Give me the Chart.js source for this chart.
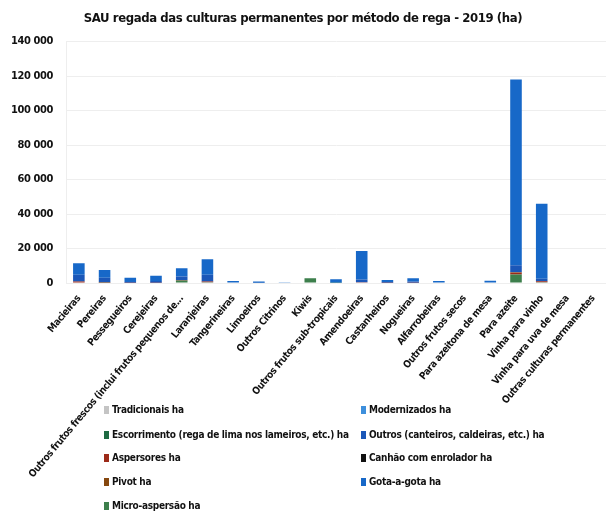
<!DOCTYPE html>
<html>
<head>
<meta charset="utf-8">
<script src="https://cdn.jsdelivr.net/npm/chart.js@4.4.1/dist/chart.umd.min.js"></script>
<style>
  body { margin: 0; background: #fff; }
  #wrap { position: relative; width: 606px; height: 512px; }
  #legend { position: absolute; left: 0; top: 0; width: 606px; height: 512px; pointer-events: none;
    font-family: "Liberation Sans Narrow", "DejaVu Sans Condensed", sans-serif; font-weight: bold;
    font-size: 10px; letter-spacing: -0.3px; color: #111; }
  .item { position: absolute; white-space: nowrap; line-height: 14px; }
  .sw { display: inline-block; width: 5px; height: 8px; margin-right: 3px; vertical-align: -1px; }
</style>
</head>
<body>
<div id="wrap">
  <canvas id="chart" width="606" height="512"></canvas>
  <div id="legend"></div>
</div>
<script>
const categories = [
  "Macieiras", "Pereiras", "Pessegueiros", "Cerejeiras",
  "Outros frutos frescos (inclui frutos pequenos de...", "Laranjeiras", "Tangerineiras",
  "Limoeiros", "Outros Citrinos", "Kiwis", "Outros frutos sub-tropicais", "Amendoeiras",
  "Castanheiros", "Nogueiras", "Alfarrobeiras", "Outros frutos secos", "Para azeitona de mesa",
  "Para azeite", "Vinha para vinho", "Vinha para uva de mesa", "Outras culturas permanentes"
];

// valores estimados a partir da imagem (ha)
const tradicionais  = [0, 0, 0, 0, 0, 0, 0, 0, 0, 0, 0, 0, 0, 0, 0, 300, 0, 0, 0, 0, 0];
const modernizados  = [0, 0, 0, 0, 0, 0, 0, 0, 0, 0, 0, 0, 0, 0, 0, 0, 0, 0, 0, 0, 0];
const escorrimento  = [0, 0, 0, 0, 0, 0, 0, 0, 0, 0, 0, 0, 0, 0, 0, 0, 0, 0, 0, 0, 0];
const outros        = [4000, 2500, 500, 1000, 2000, 4000, 300, 200, 0, 0, 0, 1500, 500, 800, 300, 0, 300, 4000, 1500, 0, 0];
const aspersores    = [500, 300, 100, 100, 200, 300, 0, 0, 0, 0, 0, 200, 100, 100, 0, 0, 0, 1000, 500, 0, 0];
const canhao        = [0, 0, 0, 0, 0, 0, 0, 0, 0, 0, 0, 0, 0, 0, 0, 0, 0, 0, 0, 0, 0];
const pivot         = [0, 0, 0, 0, 0, 0, 0, 0, 0, 0, 0, 0, 0, 0, 0, 0, 0, 300, 0, 0, 0];
const gotaAGota     = [6700, 4600, 2500, 3100, 4800, 9000, 900, 600, 150, 0, 2000, 16600, 1200, 1800, 800, 0, 1000, 107700, 43500, 0, 0];
const microAspersao = [300, 200, 0, 0, 1500, 500, 0, 0, 0, 2700, 200, 300, 0, 0, 0, 0, 0, 5000, 500, 0, 0];

const yTicks = [0, 20000, 40000, 60000, 80000, 100000, 120000, 140000];

const series = {
  trad:  { label: "Tradicionais ha", data: tradicionais, color: "#c4c4c4" },
  mod:   { label: "Modernizados ha", data: modernizados, color: "#3d8fdc" },
  esc:   { label: "Escorrimento (rega de lima nos lameiros, etc.) ha", data: escorrimento, color: "#1e6b42" },
  out:   { label: "Outros (canteiros, caldeiras, etc.) ha", data: outros, color: "#1b57b8" },
  asp:   { label: "Aspersores ha", data: aspersores, color: "#9c2a18" },
  can:   { label: "Canhão com enrolador ha", data: canhao, color: "#111111" },
  piv:   { label: "Pivot ha", data: pivot, color: "#86480f" },
  gota:  { label: "Gota-a-gota ha", data: gotaAGota, color: "#1768c8" },
  micro: { label: "Micro-aspersão ha", data: microAspersao, color: "#3d7f4c" }
};

// ordem de empilhamento (de baixo para cima)
const stackOrder = ["micro", "asp", "piv", "can", "esc", "out", "trad", "mod", "gota"];
// ordem da legenda: coluna esquerda, coluna direita
const legendLeft = ["trad", "esc", "asp", "piv", "micro"];
const legendRight = ["mod", "out", "can", "gota"];

const fmt = (v) => String(v).replace(/\B(?=(\d{3})+(?!\d))/g, " ");
const narrow = "'Liberation Sans Narrow', 'DejaVu Sans Condensed', sans-serif";

// texto mais apertado, como no original
const tightText = {
  id: "tightText",
  beforeDraw: (chart) => { chart.ctx.letterSpacing = "-0.4px"; }
};

const ctx = document.getElementById("chart").getContext("2d");
const chart = new Chart(ctx, {
  type: "bar",
  data: {
    labels: categories,
    datasets: stackOrder.map((k) => ({
      label: series[k].label,
      data: series[k].data,
      backgroundColor: series[k].color,
      borderWidth: 0,
      barPercentage: 0.45,
      categoryPercentage: 1.0
    }))
  },
  options: {
    responsive: false,
    animation: false,
    layout: { padding: 0 },
    plugins: {
      legend: { display: false },
      tooltip: { enabled: false },
      title: {
        display: true,
        text: "SAU regada das culturas permanentes por método de rega - 2019 (ha)",
        color: "#111",
        font: { family: narrow, size: 13, weight: "bold" },
        padding: { top: 11, bottom: 15 }
      }
    },
    scales: {
      x: {
        stacked: true,
        grid: { display: false },
        border: { display: false },
        ticks: {
          color: "#111",
          font: { family: narrow, size: 10, weight: "bold" },
          minRotation: 50,
          maxRotation: 50,
          autoSkip: false,
          padding: 2
        },
        afterFit: (scale) => {
          scale.height = 229;
          scale.paddingLeft = 0;
          scale.paddingRight = 0;
        }
      },
      y: {
        stacked: true,
        min: 0,
        max: 140000,
        afterBuildTicks: (scale) => { scale.ticks = yTicks.map((v) => ({ value: v })); },
        grid: { color: "#eeeeee", drawTicks: false },
        border: { color: "#eeeeee" },
        ticks: {
          color: "#111",
          font: { family: narrow, size: 11, weight: "bold" },
          padding: 13,
          callback: (v) => fmt(v)
        },
        afterFit: (scale) => { scale.width = 66; }
      }
    }
  },
  plugins: [tightText]
});

// legenda em duas colunas
const legendEl = document.getElementById("legend");
const rowY = [403, 428, 451, 475, 499];
const addItem = (k, x, y) => {
  const d = document.createElement("div");
  d.className = "item";
  d.style.left = x + "px";
  d.style.top = y + "px";
  d.innerHTML = '<span class="sw" style="background:' + series[k].color + '"></span>' + series[k].label;
  legendEl.appendChild(d);
};
legendLeft.forEach((k, i) => addItem(k, 104, rowY[i]));
legendRight.forEach((k, i) => addItem(k, 361, rowY[i]));
</script>
</body>
</html>
